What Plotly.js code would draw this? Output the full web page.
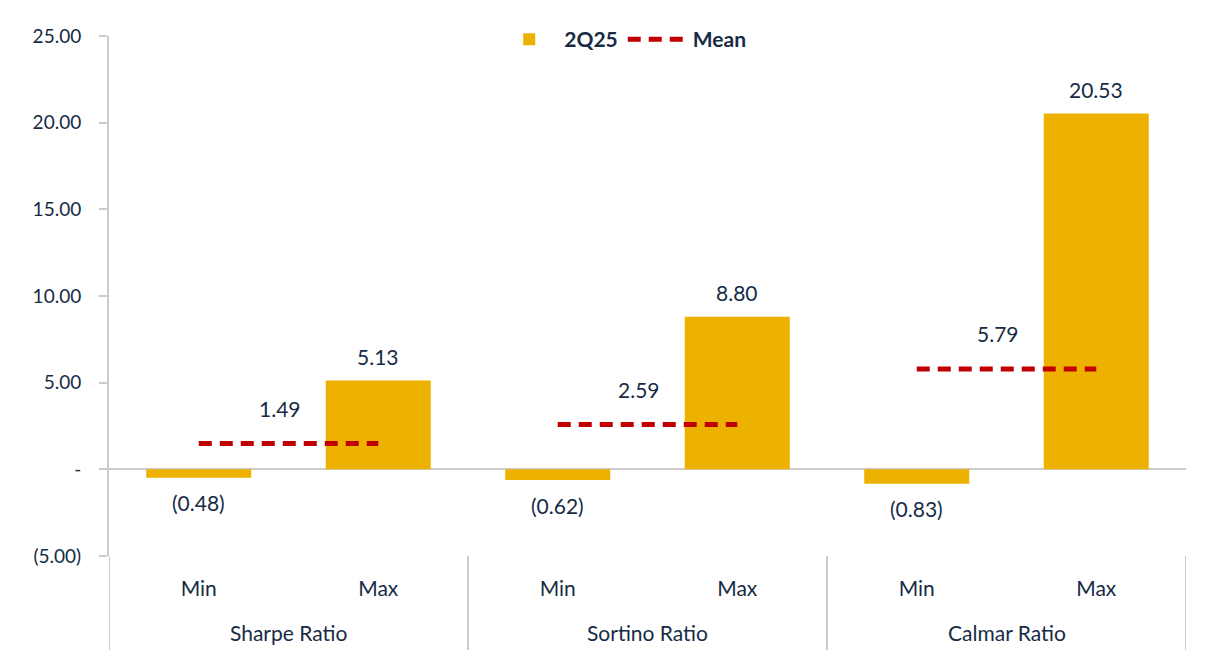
<!DOCTYPE html>
<html>
<head>
<meta charset="utf-8">
<script src="https://cdn.plot.ly/plotly-3.0.1.min.js"></script>
<style>html,body{margin:0;padding:0;background:#fff;}#chart{width:1212px;height:656px;}</style>
</head>
<body>
<div id="chart"></div>
<script>
const groups = ["Sharpe Ratio", "Sortino Ratio", "Calmar Ratio"];
const subCats = ["Min", "Max"];
const minValues = [-0.48, -0.62, -0.83];
const maxValues = [5.13, 8.80, 20.53];
const meanValues = [1.49, 2.59, 5.79];
const yTickVals = [-5, 0, 5, 10, 15, 20, 25];

function fmt(v) {
  if (v === 0) return "-";
  const s = Math.abs(v).toFixed(2);
  return v < 0 ? "(" + s + ")" : s;
}

const navy = "#172B45";
const gold = "#EDB100";
const red = "#C00000";
const grey = "#CCCCCC";
const fontFam = "Lato, 'Open Sans', sans-serif";

// category keys (group + sub-category), tick labels and bar values
const xKeys = [], xTickText = [], barY = [];
groups.forEach((g, i) => {
  subCats.forEach((s, j) => {
    xKeys.push(g + " " + s);
    xTickText.push(s);
    barY.push(j === 0 ? minValues[i] : maxValues[i]);
  });
});

const traces = [{
  type: "bar",
  name: "2Q25",
  x: xKeys,
  y: barY,
  marker: {color: gold},
  width: 0.585,
  hoverinfo: "skip"
}];

groups.forEach((g, i) => {
  traces.push({
    type: "scatter",
    mode: "lines",
    name: "Mean",
    showlegend: i === 0,
    legendgroup: "mean",
    x: subCats.map(s => g + " " + s),
    y: [meanValues[i], meanValues[i]],
    line: {color: red, width: 5, dash: "13px,8px"},
    hoverinfo: "skip"
  });
});

const annotations = [];
// bar value labels
barY.forEach((v, k) => {
  annotations.push({
    x: k, y: v, xref: "x", yref: "y",
    text: fmt(v), showarrow: false,
    yshift: v >= 0 ? 24 : -25,
    font: {family: fontFam, size: 21, color: navy}
  });
});
// mean labels
groups.forEach((g, i) => {
  annotations.push({
    x: i * subCats.length + 0.45, y: meanValues[i], xref: "x", yref: "y",
    text: fmt(meanValues[i]), showarrow: false,
    yshift: 35,
    font: {family: fontFam, size: 21, color: navy}
  });
});
// group labels
groups.forEach((g, i) => {
  annotations.push({
    x: i * subCats.length + (subCats.length - 1) / 2, xref: "x",
    y: -0.148, yref: "paper", yanchor: "middle",
    text: g, showarrow: false,
    font: {family: fontFam, size: 21, color: navy}
  });
});

// group dividers below the axis
const shapes = [];
for (let i = 0; i <= groups.length; i++) {
  shapes.push({
    type: "line", xref: "x", yref: "paper",
    x0: i * subCats.length - 0.5, x1: i * subCats.length - 0.5,
    y0: 0, y1: -0.181,
    line: {color: grey, width: 2}
  });
}

const layout = {
  width: 1212,
  height: 656,
  margin: {l: 109, r: 26, t: 36, b: 100},
  paper_bgcolor: "#fff",
  plot_bgcolor: "#fff",
  font: {family: fontFam, size: 19, color: navy},
  showlegend: true,
  legend: {
    orientation: "h",
    x: 0.477, xanchor: "center",
    y: 0.993, yanchor: "middle",
    font: {family: fontFam, size: 21, color: navy, weight: "bold"},
    itemwidth: 60,
    tracegroupgap: 0
  },
  xaxis: {
    type: "category",
    range: [-0.5, xKeys.length - 0.5],
    tickvals: xKeys,
    ticktext: xTickText,
    showline: false,
    showgrid: false,
    zeroline: false,
    ticks: "",
    ticklabelstandoff: 18,
    tickfont: {family: fontFam, size: 21, color: navy}
  },
  yaxis: {
    range: [-5, 25],
    tickvals: yTickVals,
    ticktext: yTickVals.map(fmt),
    showgrid: false,
    showline: true,
    linecolor: grey,
    linewidth: 2,
    ticks: "outside",
    ticklen: 8,
    tickcolor: grey,
    tickwidth: 2,
    zeroline: true,
    zerolinecolor: grey,
    zerolinewidth: 2,
    tickfont: {family: fontFam, size: 19, color: navy},
    ticklabelstandoff: 14
  },
  shapes: shapes,
  annotations: annotations
};

Plotly.newPlot("chart", traces, layout, {displayModeBar: false, staticPlot: true});
</script>
</body>
</html>
